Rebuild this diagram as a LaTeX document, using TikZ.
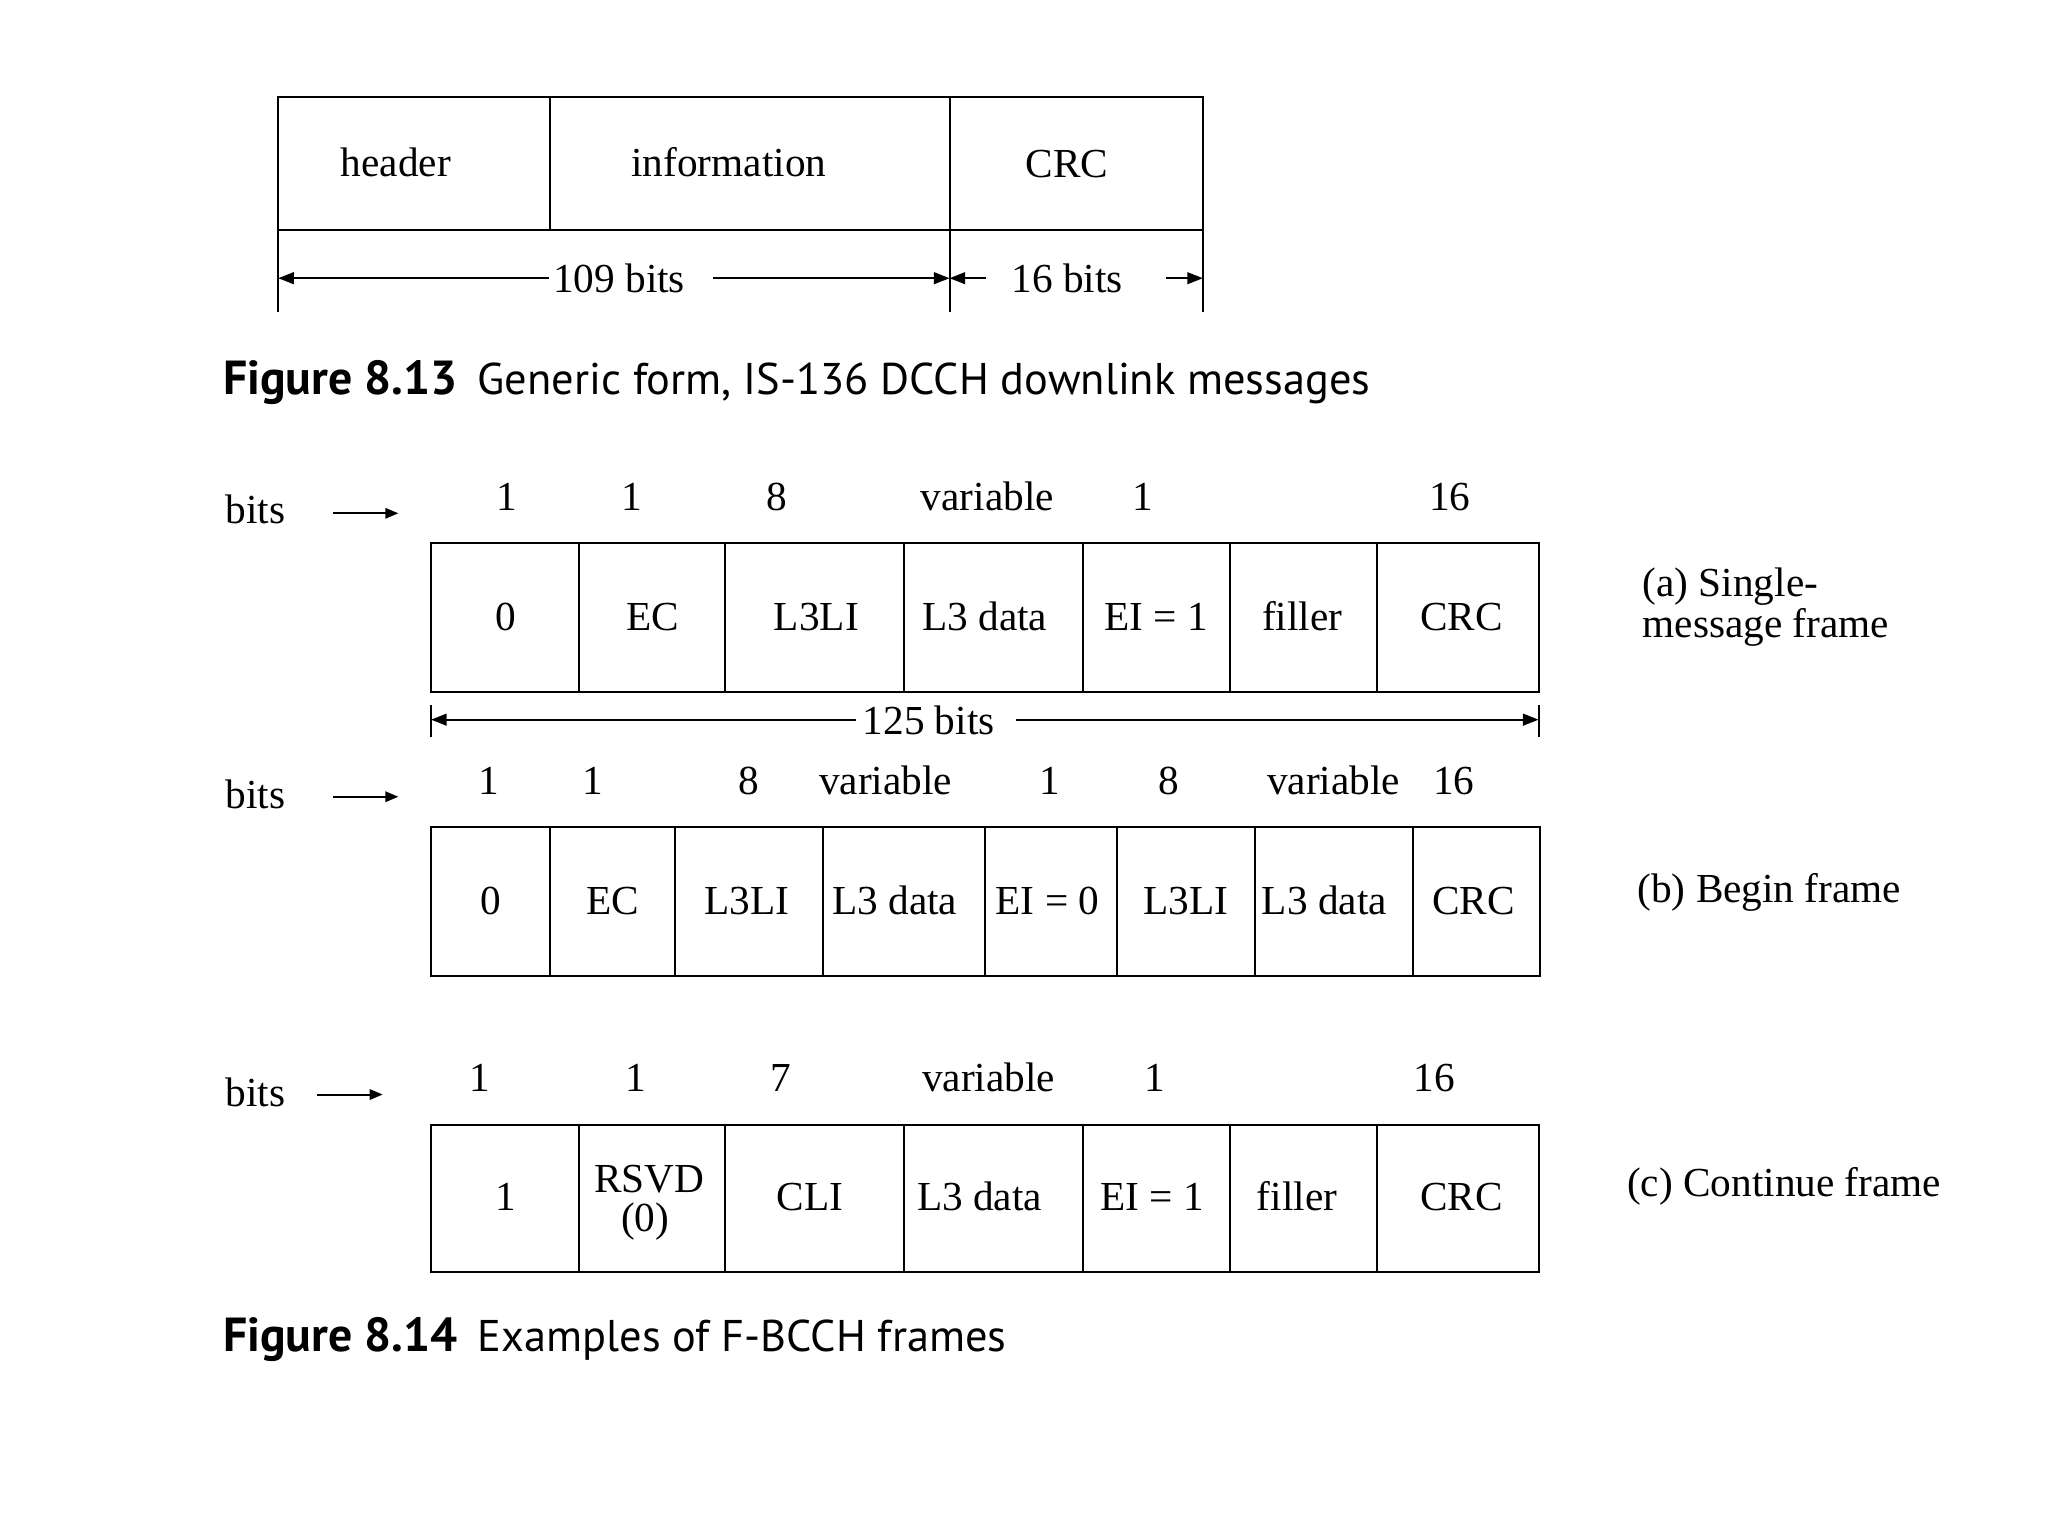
\documentclass[tikz,border=0pt]{standalone}
\usepackage{fontspec}
\setmainfont{Liberation Serif}
\newfontfamily\capfont{PT Sans}
\usetikzlibrary{arrows.meta}
\tikzset{
  lbl/.style={anchor=base, inner sep=0pt, font=\fontsize{15.8}{18}\selectfont},
  lblw/.style={anchor=base west, inner sep=0pt, font=\fontsize{15.8}{18}\selectfont},
  captxt/.style={anchor=base west, inner sep=0pt, font=\capfont\fontsize{17}{20}\selectfont},
  dimarr/.style={-{Triangle[length=6pt,width=4.5pt]}},
  bitarrow/.style={-{Triangle[length=5pt,width=4pt]}},
  boxline/.style={line width=0.75pt},
}
\newcommand{\figlab}[1]{{\fontsize{18.3}{20}\selectfont\bfseries #1}\hspace{0.45em}}
\begin{document}
\begin{tikzpicture}[x=0.5pt,y=-0.5pt,line width=0.75pt]
\useasboundingbox[fill=white] (0,0) rectangle (1568,1176);

% ---------- Figure 8.13 ----------
\draw[boxline] (213,74) rectangle (921,176);
\draw[boxline] (421,74) -- (421,176);
\draw[boxline] (727,74) -- (727,239);
\draw[boxline] (213,176) -- (213,239);
\draw[boxline] (921,176) -- (921,239);
\node[lbl] (hdr) at (303,135) {header};
\node[lbl] (info) at (558,135) {information};
\node[lbl] (crc0) at (817,136) {CRC};
\node[lbl] (b109) at (474,224) {109 bits};
\node[lbl] (b16) at (817,224) {16 bits};
\coordinate (d1a) at (420,213); \coordinate (d1b) at (213,213);
\coordinate (d2a) at (546,213); \coordinate (d2b) at (727,213);
\coordinate (d3a) at (755,213); \coordinate (d3b) at (727,213);
\coordinate (d4a) at (893,213); \coordinate (d4b) at (921,213);
\draw[dimarr] (d1a) -- (d1b);
\draw[dimarr] (d2a) -- (d2b);
\draw[dimarr] (d3a) -- (d3b);
\draw[dimarr] (d4a) -- (d4b);
\node[captxt] (cap13) at (170,302) {\figlab{Figure 8.13}Generic form, IS-136 DCCH downlink messages};

% ---------- (a) Single-message frame ----------
\node[lblw] (bitsa) at (172,401) {bits};
\coordinate (aa1) at (255,393); \coordinate (aa2) at (305,393);
\draw[bitarrow] (aa1) -- (aa2);
\foreach \x/\t [count=\i] in {388/1,484/1,595/8,756/variable,875/1,1110/16}
  \node[lbl] (na\i) at (\x,391) {\t};
\draw[boxline] (330,416) rectangle (1178,530);
\foreach \x in {443,555,692,829,942,1054} \draw[boxline] (\x,416) -- (\x,530);
\foreach \x/\t [count=\i] in {387/0,500/EC,625/L3LI,754/L3 data,885/EI = 1,997/filler,1119/CRC}
  \node[lbl] (ca\i) at (\x,483) {\t};
\node[lblw] (laba1) at (1257,457) {(a) Single-};
\node[lblw] (laba2) at (1257,488) {message frame};

% 125 bits
\draw[boxline] (330,540) -- (330,564);
\draw[boxline] (1178,540) -- (1178,564);
\node[lbl] (b125) at (711,562) {125 bits};
\coordinate (e1a) at (655,551); \coordinate (e1b) at (330,551);
\coordinate (e2a) at (778,551); \coordinate (e2b) at (1178,551);
\draw[dimarr] (e1a) -- (e1b);
\draw[dimarr] (e2a) -- (e2b);

% ---------- (b) Begin frame ----------
\node[lblw] (bitsb) at (172,619) {bits};
\coordinate (ab1) at (255,610); \coordinate (ab2) at (305,610);
\draw[bitarrow] (ab1) -- (ab2);
\foreach \x/\t [count=\i] in {374/1,454/1,573/8,678/variable,804/1,895/8,1021/variable,1113/16}
  \node[lbl] (nb\i) at (\x,608) {\t};
\draw[boxline] (330,633) rectangle (1179,747);
\foreach \x in {421,517,630,754,855,961,1082} \draw[boxline] (\x,633) -- (\x,747);
\foreach \x/\t [count=\i] in {376/0,469/EC,572/L3LI,685/L3 data,802/EI = 0,908/L3LI,1014/L3 data,1128/CRC}
  \node[lbl] (cb\i) at (\x,700) {\t};
\node[lblw] (labb) at (1253,691) {(b) Begin frame};

% ---------- (c) Continue frame ----------
\node[lblw] (bitsc) at (172,847) {bits};
\coordinate (ac1) at (243,838); \coordinate (ac2) at (293,838);
\draw[bitarrow] (ac1) -- (ac2);
\foreach \x/\t [count=\i] in {367/1,487/1,598/7,757/variable,884/1,1098/16}
  \node[lbl] (nc\i) at (\x,836) {\t};
\draw[boxline] (330,861) rectangle (1178,974);
\foreach \x in {443,555,692,829,942,1054} \draw[boxline] (\x,861) -- (\x,974);
\foreach \x/\t [count=\i] in {387/1,620/CLI,750/L3 data,882/EI = 1,993/filler,1119/CRC}
  \node[lbl] (cc\i) at (\x,927) {\t};
\node[lbl] (rsvd1) at (497,913) {RSVD};
\node[lbl] (rsvd2) at (494,943) {(0)};
\node[lblw] (labc) at (1245,916) {(c) Continue frame};

\node[captxt] (cap14) at (170,1035) {\figlab{Figure 8.14}Examples of F-BCCH frames};
\end{tikzpicture}
\end{document}
